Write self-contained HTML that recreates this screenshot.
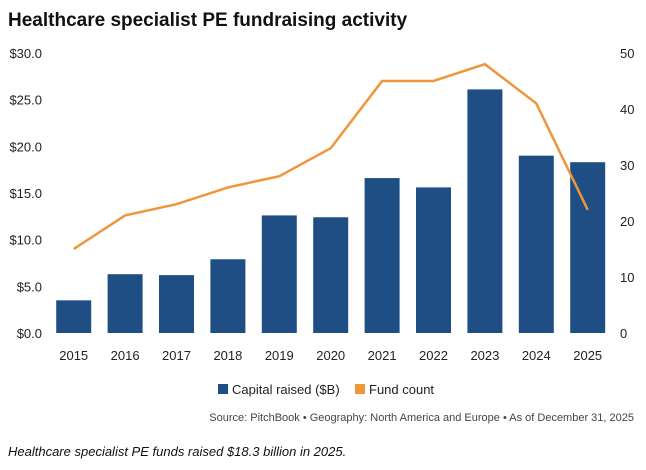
<!DOCTYPE html>
<html><head><meta charset="utf-8"><style>
body{margin:0;background:#fff;font-family:"Liberation Sans",sans-serif;}
svg text{font-family:"Liberation Sans",sans-serif;}
</style></head><body>
<svg id="c" width="646" height="465" xmlns="http://www.w3.org/2000/svg">
<text x="8" y="26" font-size="19" font-weight="bold" fill="#111">Healthcare specialist PE fundraising activity</text>
<g id="plot"></g>
<g>
<rect x="218" y="384" width="10" height="10" fill="#1f4e85"/>
<text x="232" y="394" font-size="13" fill="#222">Capital raised ($B)</text>
<rect x="355" y="384" width="10" height="10" fill="#f0963a"/>
<text x="369" y="394" font-size="13" fill="#222">Fund count</text>
</g>
<text x="634" y="421" font-size="11" fill="#444" text-anchor="end">Source: PitchBook • Geography: North America and Europe • As of December 31, 2025</text>
<text x="8" y="456" font-size="13" font-style="italic" fill="#111">Healthcare specialist PE funds raised $18.3 billion in 2025.</text>
</svg>
<script>
const years=["2015","2016","2017","2018","2019","2020","2021","2022","2023","2024","2025"];
const capital=[3.5,6.3,6.2,7.9,12.6,12.4,16.6,15.6,26.1,19.0,18.3];
const funds=[15,21,23,26,28,33,45,45,48,41,22];
const leftTicks=[0,5,10,15,20,25,30];
const rightTicks=[0,10,20,30,40,50];
const NS="http://www.w3.org/2000/svg";
const g=document.getElementById('plot');
const y0=333,y1=53,x0=48,step=51.4,bw=35;
const yL=v=>y0-(v/30)*(y0-y1);
const yR=v=>y0-(v/50)*(y0-y1);
const xC=i=>x0+step*(i+0.5);
function mk(t,a){const e=document.createElementNS(NS,t);for(const k in a)e.setAttribute(k,a[k]);g.appendChild(e);return e;}
leftTicks.forEach(v=>{const t=mk('text',{x:42,y:yL(v)+5,'font-size':13,fill:'#222','text-anchor':'end'});t.textContent='$'+v.toFixed(1);

});
rightTicks.forEach(v=>{const t=mk('text',{x:620,y:yR(v)+5,'font-size':13,fill:'#222'});t.textContent=v;

});
capital.forEach((v,i)=>{const r=mk('rect',{x:xC(i)-bw/2,y:yL(v),width:bw,height:y0-yL(v),fill:'#1f4e85'});


const t=mk('text',{x:xC(i),y:360,'font-size':13,fill:'#222','text-anchor':'middle'});t.textContent=years[i];

});
const p=mk('polyline',{points:funds.map((v,i)=>xC(i)+','+yR(v)).join(' '),fill:'none',stroke:'#f0963a','stroke-width':2.5,'stroke-linejoin':'miter'});


</script>
</body></html>
